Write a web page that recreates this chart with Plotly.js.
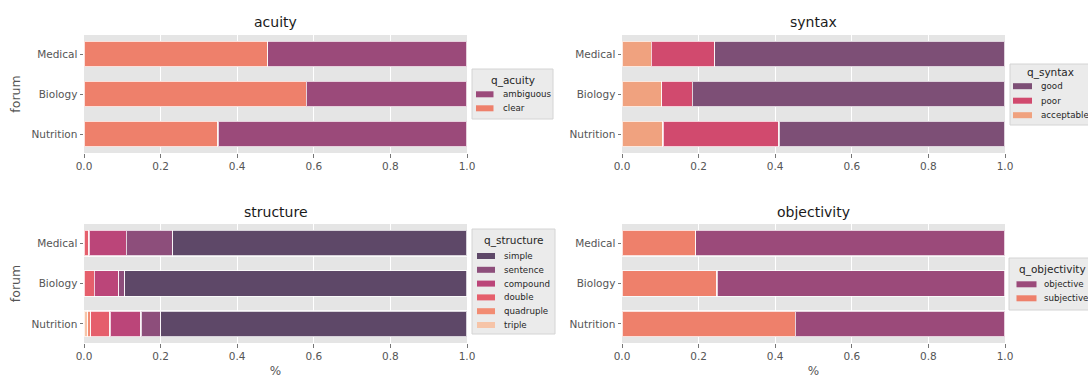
<!DOCTYPE html>
<html><head><meta charset="utf-8">
<script src="https://cdn.plot.ly/plotly-3.0.1.min.js"></script>
<style>html,body{margin:0;padding:0;background:#fff}#chart{width:1088px;height:378px}</style>
</head><body><div id="chart"></div>
<script>
// ---- data ----
const forums = ['Medical', 'Biology', 'Nutrition'];
const xTicks = [0, 0.2, 0.4, 0.6, 0.8, 1.0];

// acuity (stack order left -> right)
const acuityLevels = ['clear', 'ambiguous'];
const acuityClear = [0.48, 0.58, 0.35];
const acuityAmbiguous = [0.52, 0.42, 0.65];

// syntax
const syntaxLevels = ['acceptable', 'poor', 'good'];
const syntaxAcceptable = [0.077, 0.104, 0.107];
const syntaxPoor = [0.165, 0.080, 0.303];
const syntaxGood = [0.758, 0.816, 0.590];

// structure
const structureLevels = ['triple', 'quadruple', 'double', 'compound', 'sentence', 'simple'];
const structureTriple = [0.000, 0.000, 0.010];
const structureQuadruple = [0.000, 0.000, 0.008];
const structureDouble = [0.013, 0.027, 0.050];
const structureCompound = [0.097, 0.064, 0.081];
const structureSentence = [0.122, 0.015, 0.051];
const structureSimple = [0.768, 0.894, 0.800];

// objectivity
const objectivityLevels = ['subjective', 'objective'];
const objectivitySubjective = [0.192, 0.248, 0.452];
const objectivityObjective = [0.808, 0.752, 0.548];

// ---- styles ----
const colors = {
  clear: '#ee806b', ambiguous: '#9b4a7a',
  acceptable: '#f0a27f', poor: '#d14a6e', good: '#7d4f76',
  triple: '#f6c4a8', quadruple: '#f28c73', double: '#e55f6c',
  compound: '#bb4579', sentence: '#8d4e7b', simple: '#5e4868',
  subjective: '#ee806b', objective: '#9b4a7a'
};
const FONT = 'DejaVu Sans, sans-serif';
const traces = [];
function addGroup(levels, arrays, xa, ya) {
  levels.forEach((lv, i) => {
    traces.push({
      type: 'bar', orientation: 'h', name: lv,
      y: forums, x: arrays[i], xaxis: xa, yaxis: ya, showlegend: false,
      width: 0.64,
      marker: { color: colors[lv], line: { color: 'rgba(255,255,255,0.75)', width: 1.2 } },
      hoverinfo: 'x+y+name'
    });
  });
}
addGroup(acuityLevels, [acuityClear, acuityAmbiguous], 'x', 'y');
addGroup(syntaxLevels, [syntaxAcceptable, syntaxPoor, syntaxGood], 'x2', 'y2');
addGroup(structureLevels, [structureTriple, structureQuadruple, structureDouble, structureCompound, structureSentence, structureSimple], 'x3', 'y3');
addGroup(objectivityLevels, [objectivitySubjective, objectivityObjective], 'x4', 'y4');

const W = 1088, H = 378;
const px = v => v / W, py = v => (H - v) / H;
const xdomL = [px(84), px(467)], xdomR = [px(622), px(1005)];
const ydomT = [py(153), py(35)], ydomB = [py(343), py(224)];

function xAxis(domain, anchor, title) {
  return {
    domain: domain, anchor: anchor, range: [0, 1.0], tickvals: xTicks, tickformat: '.1f',
    showgrid: true, gridcolor: '#ffffff', gridwidth: 1, zeroline: false,
    ticks: 'outside', ticklen: 3.5, tickwidth: 0.8, tickcolor: '#555555',
    tickfont: { family: FONT, size: 10.5, color: '#555555' },
    title: title ? { text: title, font: { family: FONT, size: 12, color: '#555555' }, standoff: 6 } : { text: '' },
    fixedrange: true
  };
}
function yAxis(domain, anchor, title) {
  return {
    domain: domain, anchor: anchor, type: 'category',
    categoryorder: 'array', categoryarray: ['Nutrition', 'Biology', 'Medical'],
    range: [-0.475, 2.475],
    showgrid: true, gridcolor: '#ffffff', gridwidth: 1, zeroline: false,
    ticks: 'outside', ticklen: 3.5, tickwidth: 0.8, tickcolor: '#555555',
    tickfont: { family: FONT, size: 10.5, color: '#555555' },
    title: title ? { text: title, font: { family: FONT, size: 12.5, color: '#555555' }, standoff: 8 } : { text: '' },
    fixedrange: true
  };
}

// ---- legends (drawn as shapes + text, matplotlib style) ----
const shapes = [];
const annotations = [];
function drawLegend(title, levels, box, titleX, titleY, firstY, step, patchX0, patchX1, textX) {
  shapes.push({ type: 'rect', xref: 'paper', yref: 'paper',
    x0: px(box[0]), x1: px(box[1]), y0: py(box[3]), y1: py(box[2]),
    fillcolor: '#ebebeb', line: { color: '#d4d4d4', width: 1 }, layer: 'above' });
  annotations.push({ text: title, xref: 'paper', yref: 'paper',
    x: px(titleX), y: py(titleY), showarrow: false,
    xanchor: 'center', yanchor: 'middle',
    font: { family: FONT, size: 10.5, color: '#262626' } });
  const ordered = levels.slice().reverse();
  ordered.forEach((lv, i) => {
    const yc = firstY + i * step;
    shapes.push({ type: 'rect', xref: 'paper', yref: 'paper',
      x0: px(patchX0), x1: px(patchX1), y0: py(yc + 3), y1: py(yc - 3),
      fillcolor: colors[lv], line: { width: 0 }, layer: 'above' });
    annotations.push({ text: lv, xref: 'paper', yref: 'paper',
      x: px(textX), y: py(yc), showarrow: false, xanchor: 'left', yanchor: 'middle',
      font: { family: FONT, size: 8.7, color: '#262626' } });
  });
}
drawLegend('q_acuity', acuityLevels, [472, 553, 69, 119], 513, 80.5, 94.3, 14, 476, 493.5, 501);
drawLegend('q_syntax', syntaxLevels, [1010, 1095, 64, 125], 1050, 72, 86.2, 14.5, 1013, 1032, 1039);
drawLegend('q_structure', structureLevels, [472, 555, 229, 334], 514, 240, 256, 13.8, 477, 495, 502.3);
drawLegend('q_objectivity', objectivityLevels, [1009, 1095, 258, 310], 1052.5, 269, 284.3, 14, 1016.5, 1036.5, 1041.5);

function titleAnn(text, xpix, ypix) {
  return { text: text, x: px(xpix), y: py(ypix), xref: 'paper', yref: 'paper',
    showarrow: false, xanchor: 'center', yanchor: 'middle',
    font: { family: FONT, size: 14, color: '#1a1a1a' } };
}
annotations.push(titleAnn('acuity', 275.5, 22), titleAnn('syntax', 813.5, 22),
  titleAnn('structure', 275.5, 212), titleAnn('objectivity', 813.5, 212));

const layout = {
  width: W, height: H, margin: { l: 0, r: 0, t: 0, b: 0 },
  paper_bgcolor: '#ffffff', plot_bgcolor: '#e5e5e5',
  barmode: 'stack', bargap: 0.36,
  font: { family: FONT },
  xaxis: xAxis(xdomL, 'y', ''), yaxis: yAxis(ydomT, 'x', 'forum'),
  xaxis2: xAxis(xdomR, 'y2', ''), yaxis2: yAxis(ydomT, 'x2', ''),
  xaxis3: xAxis(xdomL, 'y3', '%'), yaxis3: yAxis(ydomB, 'x3', 'forum'),
  xaxis4: xAxis(xdomR, 'y4', '%'), yaxis4: yAxis(ydomB, 'x4', ''),
  shapes: shapes, annotations: annotations,
  showlegend: false
};
Plotly.newPlot('chart', traces, layout, { displayModeBar: false, staticPlot: true });
</script>
</body></html>
